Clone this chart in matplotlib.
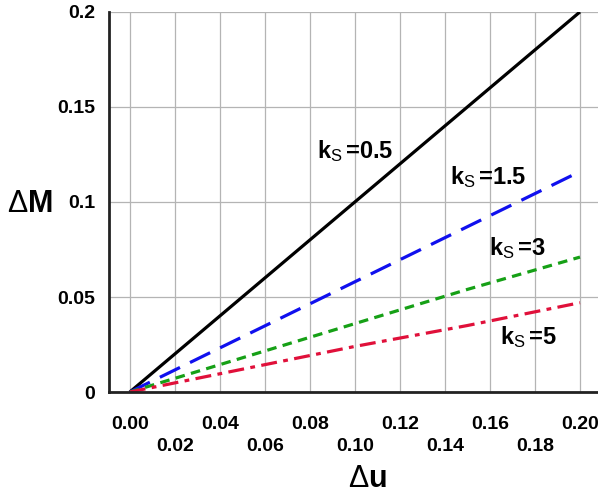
import matplotlib
matplotlib.use("Agg")
import matplotlib.pyplot as plt
from matplotlib.ticker import FixedLocator, FixedFormatter

plt.rcParams['font.family'] = ['Liberation Sans', 'DejaVu Sans']
plt.rcParams['mathtext.fontset'] = 'custom'
plt.rcParams['mathtext.rm'] = 'Liberation Sans'
plt.rcParams['mathtext.bf'] = 'Liberation Sans:bold'
plt.rcParams['mathtext.it'] = 'Liberation Sans:italic'

# data
du = [0.0, 0.05, 0.10, 0.15, 0.20]
dm_ks05 = [0.0, 0.050, 0.100, 0.150, 0.200]
dm_ks15 = [0.0, 0.029, 0.058, 0.087, 0.116]
dm_ks3 = [0.0, 0.018, 0.036, 0.054, 0.071]
dm_ks5 = [0.0, 0.012, 0.024, 0.035, 0.047]

x_major = [0.00, 0.04, 0.08, 0.12, 0.16, 0.20]
x_minor = [0.02, 0.06, 0.10, 0.14, 0.18]
y_ticks = [0, 0.05, 0.1, 0.15, 0.2]
y_labels = ['0', '0.05', '0.1', '0.15', '0.2']

ks_values = ['0.5', '1.5', '3', '5']
label_pos = [(0.100, 0.127), (0.159, 0.113), (0.172, 0.076), (0.177, 0.029)]

fig = plt.figure(figsize=(5.98, 4.95), dpi=100)
ax = fig.add_axes([0.182, 0.208, 0.818, 0.768])

ax.plot(du, dm_ks05, color='black', linewidth=2.3, solid_capstyle='butt')
ax.plot(du, dm_ks15, color='#1010ee', linewidth=2.3, dashes=(7, 3.5))
ax.plot(du, dm_ks3, color='#16a016', linewidth=2.3, dashes=(3, 2))
ax.plot(du, dm_ks5, color='#e0103a', linewidth=2.3, dashes=(5, 2, 1.5, 2))

for ks, (tx, ty) in zip(ks_values, label_pos):
    ax.text(tx, ty, r'$\mathbf{k}_{\mathrm{S}}\,$=' + ks, fontsize=17, fontweight='bold',
            ha='center', va='center', color='black')

ax.set_xlim(-0.0093, 0.208)
ax.set_ylim(0, 0.2)

ax.xaxis.set_major_locator(FixedLocator(x_major))
ax.xaxis.set_major_formatter(FixedFormatter([f'{v:.2f}' for v in x_major]))
ax.xaxis.set_minor_locator(FixedLocator(x_minor))
ax.xaxis.set_minor_formatter(FixedFormatter([f'{v:.2f}' for v in x_minor]))
ax.yaxis.set_major_locator(FixedLocator(y_ticks))
ax.yaxis.set_major_formatter(FixedFormatter(y_labels))

ax.tick_params(axis='x', which='major', length=0, pad=17, labelsize=14)
ax.tick_params(axis='x', which='minor', length=0, pad=33, labelsize=14)
ax.tick_params(axis='y', length=0, pad=10, labelsize=14)
for lbl in ax.get_xticklabels(which='both') + ax.get_yticklabels():
    lbl.set_fontweight('bold')

ax.grid(True, which='both', axis='x', color='#b4b4b4', linewidth=0.9)
ax.grid(True, which='major', axis='y', color='#b4b4b4', linewidth=0.9)
ax.set_axisbelow(True)

for side in ['top', 'right']:
    ax.spines[side].set_visible(False)
for side in ['left', 'bottom']:
    ax.spines[side].set_linewidth(2)
    ax.spines[side].set_color('#222222')

fig.text(0.05, 0.588, r'$\Delta\mathbf{M}$', fontsize=22, ha='center', va='center')
fig.text(0.614, 0.032, r'$\Delta\mathbf{u}$', fontsize=22, ha='center', va='center')

fig.savefig('out.png', dpi=100)
